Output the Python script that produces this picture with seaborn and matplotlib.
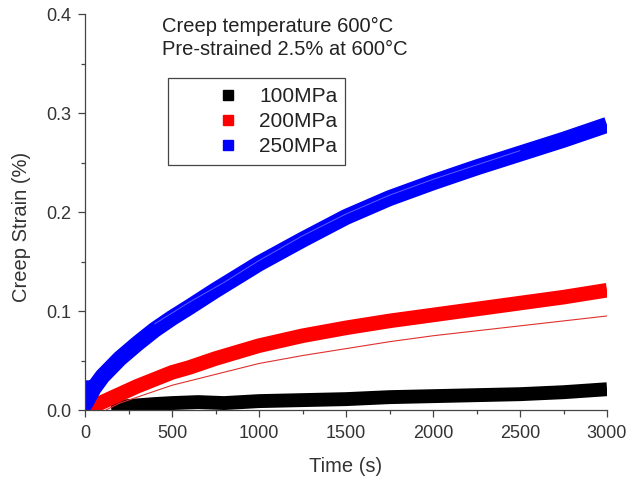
import numpy as np
import pandas as pd
import matplotlib
matplotlib.use("Agg")
import matplotlib.pyplot as plt
from matplotlib.lines import Line2D
from matplotlib.patches import Rectangle
from matplotlib.ticker import MultipleLocator, FormatStrFormatter
import seaborn as sns

# values (time in s, creep strain in %)
t_blue = [0, 0, 50, 100, 150, 200, 300, 400, 500, 600, 750, 1000, 1250, 1500,
          1750, 2000, 2250, 2500, 2750, 3000]
strain_blue = [0.030, 0.006, 0.022, 0.034, 0.043, 0.052, 0.067, 0.081, 0.093, 0.104,
               0.121, 0.148, 0.172, 0.195, 0.214, 0.230, 0.245, 0.259, 0.273, 0.288]

t_red = [0, 50, 100, 150, 200, 300, 400, 500, 600, 750, 1000, 1250, 1500,
         1750, 2000, 2250, 2500, 2750, 3000]
strain_red = [0.000, 0.004, 0.008, 0.012, 0.016, 0.024, 0.031, 0.038, 0.043, 0.052,
              0.065, 0.075, 0.083, 0.090, 0.096, 0.102, 0.108, 0.114, 0.121]

t_black = [150, 250, 400, 500, 650, 800, 1000, 1250, 1500, 1750, 2000, 2250,
           2500, 2750, 3000]
strain_black = [0.002, 0.004, 0.006, 0.007, 0.008, 0.007, 0.009, 0.010, 0.011,
                0.013, 0.014, 0.015, 0.016, 0.018, 0.021]

# thin fitted curves
t_red_fit = [120, 200, 300, 400, 500, 750, 1000, 1250, 1500, 1750, 2000, 2250,
             2500, 2750, 3000]
strain_red_fit = [0.000, 0.007, 0.013, 0.019, 0.025, 0.036, 0.047, 0.055, 0.062,
                  0.069, 0.075, 0.080, 0.085, 0.090, 0.095]

t_blue_fit = [400, 600, 800, 1000, 1250, 1500, 1750, 2000, 2500]
strain_blue_fit = [0.087, 0.109, 0.129, 0.151, 0.176, 0.198, 0.217, 0.233, 0.262]

labels = ["100MPa", "200MPa", "250MPa"]
colors = ["#000000", "#ff0000", "#0000ff"]

sns.set_style("ticks")
plt.rcParams["font.family"] = ["Liberation Sans", "DejaVu Sans"]

fig = plt.figure(figsize=(6.28, 4.8), dpi=100)
ax = fig.add_axes([0.1354, 0.1458, 0.8312, 0.825])

bands = [(t_black, strain_black, colors[0], 10),
         (t_red, strain_red, colors[1], 10.5),
         (t_blue, strain_blue, colors[2], 11.5)]
for t, s, c, lw in bands:
    df = pd.DataFrame({"t": t, "s": s})
    sns.lineplot(data=df, x="t", y="s", ax=ax, color=c, linewidth=lw,
                 estimator=None, sort=False, solid_capstyle="butt", legend=False)

sns.lineplot(x=t_red_fit, y=strain_red_fit, ax=ax, color="#e03030", linewidth=0.8,
             estimator=None, sort=False, legend=False)
sns.lineplot(x=t_blue_fit, y=strain_blue_fit, ax=ax, color="#5c5cff", linewidth=0.7,
             estimator=None, sort=False, legend=False)

ax.xaxis.set_major_locator(MultipleLocator(500))
ax.xaxis.set_minor_locator(MultipleLocator(250))
ax.yaxis.set_major_locator(MultipleLocator(0.1))
ax.yaxis.set_minor_locator(MultipleLocator(0.05))
ax.yaxis.set_major_formatter(FormatStrFormatter("%.1f"))
ax.set_xlim(0, 3000)
ax.set_ylim(0, 0.4)

sns.despine(ax=ax)
for side in ["left", "bottom"]:
    ax.spines[side].set_color("#444444")
    ax.spines[side].set_linewidth(0.9)
ax.tick_params(which="major", direction="out", length=5, width=0.9,
               color="#444444", labelsize=13, labelcolor="#333333")
ax.tick_params(axis="x", which="major", pad=6)
ax.tick_params(axis="y", which="major", pad=5)
ax.tick_params(which="minor", direction="out", length=3, width=0.9, color="#444444")

ax.set_xlabel("Time (s)", fontsize=14.5, color="#333333")
ax.set_ylabel("Creep Strain (%)", fontsize=14.5, color="#333333")
ax.xaxis.set_label_coords(0.5, -0.118)
ax.yaxis.set_label_coords(-0.103, 0.462)

fig.text(0.258, 0.944, "Creep temperature 600°C", fontsize=14.5, color="#222222",
         va="center")
fig.text(0.258, 0.896, "Pre-strained 2.5% at 600°C", fontsize=14.5, color="#222222",
         va="center")

# legend frame
fig.patches.append(Rectangle((168 / 628, 1 - 165 / 480), 177 / 628, 87 / 480,
                             transform=fig.transFigure, fill=False,
                             edgecolor="#444444", linewidth=0.9))
handles = [Line2D([], [], marker="s", linestyle="none", color=c, markersize=7.5)
           for c in colors]
leg = fig.legend(handles, labels, loc="upper left", bbox_to_anchor=(0.3296, 0.819),
                 fontsize=15, frameon=False, borderpad=0, handletextpad=0.5,
                 labelspacing=0.3, borderaxespad=0, handlelength=2)
for txt in leg.get_texts():
    txt.set_color("#222222")

fig.savefig("out.png", dpi=100)
